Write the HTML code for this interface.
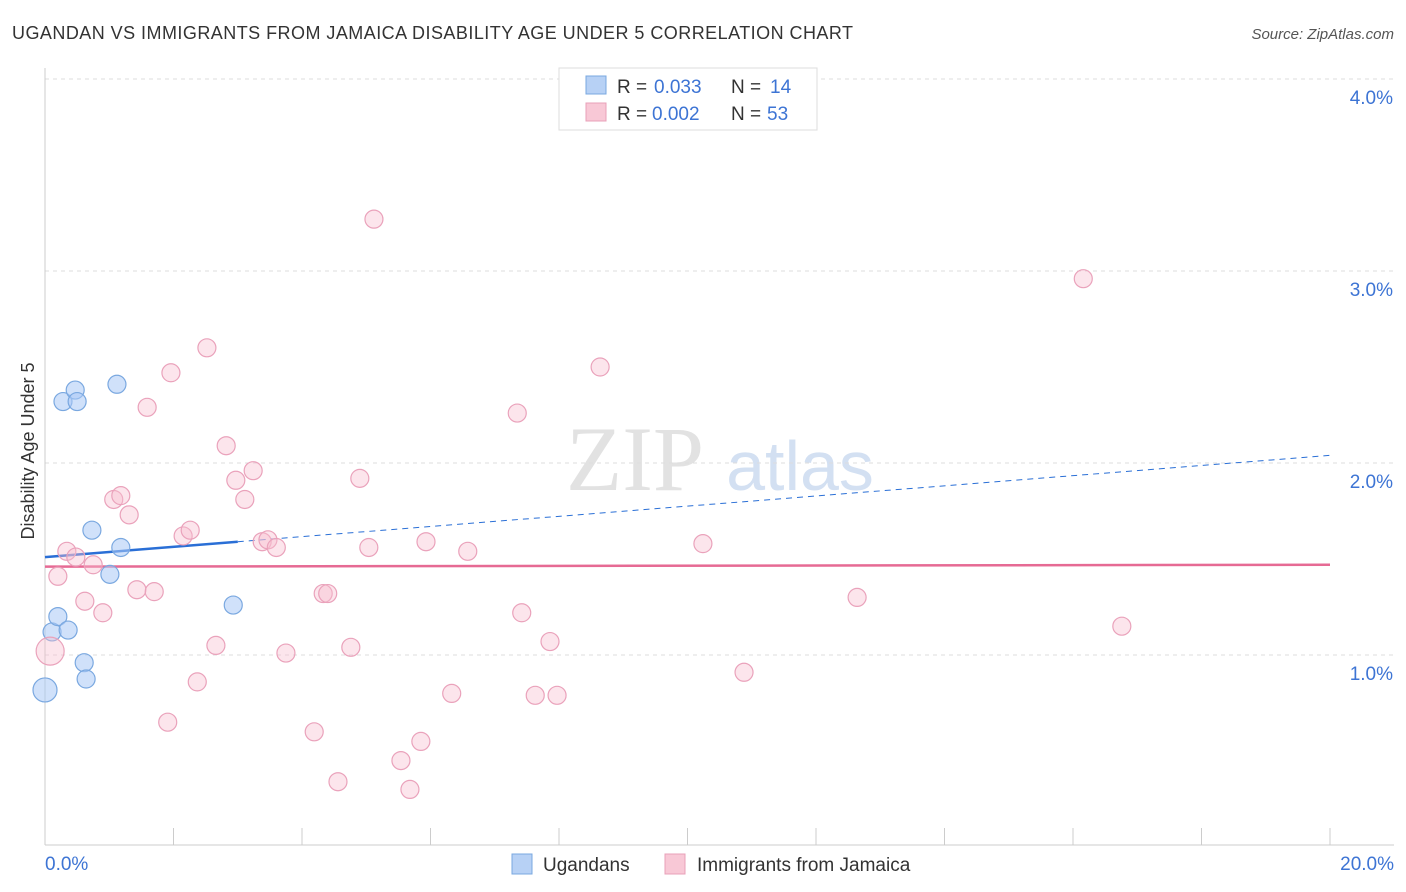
<!DOCTYPE html>
<html><head><meta charset="utf-8"><style>
body{margin:0;background:#fff;font-family:"Liberation Sans",sans-serif;}
svg{display:block}
</style></head><body>
<svg width="1406" height="892" xmlns="http://www.w3.org/2000/svg">
<text x="12" y="39" font-size="18" fill="#333" textLength="841" lengthAdjust="spacing">UGANDAN VS IMMIGRANTS FROM JAMAICA DISABILITY AGE UNDER 5 CORRELATION CHART</text>
<text x="1394" y="39" font-size="15" fill="#555" font-style="italic" text-anchor="end">Source: ZipAtlas.com</text>
<g>
<text x="635" y="490" font-size="92" fill="#e2e2e2" font-family="Liberation Serif,serif" text-anchor="middle">ZIP</text>
<text x="800" y="490" font-size="70" fill="#d3e0f2" text-anchor="middle">atlas</text>
</g>
<g id="grid"></g>
<g id="axes"></g>
<g id="lines"></g>
<g id="pts"></g>
<text x="38" y="455" font-size="18" fill="#333" text-anchor="middle" transform="rotate(-90 34 455)">Disability Age Under 5</text>
<g>
<rect x="559" y="68" width="258" height="62" fill="#fff" stroke="#ddd"/>
<rect x="586" y="76" width="20" height="18" fill="#b7d1f5" stroke="#7aa8e0"/>
<text x="617" y="93" font-size="19" fill="#333">R =</text>
<text x="654" y="93" font-size="19" fill="#3d74d4">0.033</text>
<text x="731" y="93" font-size="19" fill="#333">N =</text>
<text x="770" y="93" font-size="19" fill="#3d74d4">14</text>
<rect x="586" y="103" width="20" height="18" fill="#f8c8d6" stroke="#e8a0b8"/>
<text x="617" y="120" font-size="19" fill="#333">R =</text>
<text x="652" y="120" font-size="19" fill="#3d74d4">0.002</text>
<text x="731" y="120" font-size="19" fill="#333">N =</text>
<text x="767" y="120" font-size="19" fill="#3d74d4">53</text>
</g>
<g>
<rect x="512" y="854" width="20" height="20" fill="#b7d1f5" stroke="#7aa8e0"/>
<text x="543" y="871" font-size="19" fill="#333">Ugandans</text>
<rect x="665" y="854" width="20" height="20" fill="#f8c8d6" stroke="#e8a0b8"/>
<text x="697" y="871" font-size="19" fill="#333">Immigrants from Jamaica</text>
</g>
</svg>
<script>
const yTicks=[1,2,3,4];
const yTickLabels=["1.0%","2.0%","3.0%","4.0%"];
const xTickLabels=["0.0%","20.0%"];
const blueX=[0,0.11,0.20,0.36,0.28,0.47,0.50,1.12,0.73,1.18,1.01,0.61,0.64,2.93];
const blueY=[0.818,1.12,1.20,1.13,2.32,2.38,2.32,2.41,1.65,1.56,1.42,0.96,0.875,1.26];
const pinkX=[0.08,0.20,0.34,0.48,0.75,0.62,0.90,1.07,1.18,1.31,1.43,1.70,1.59,1.96,2.52,1.91,2.37,2.15,2.26,2.66,2.82,2.97,3.11,3.24,3.38,3.47,3.60,3.75,4.19,4.33,4.40,4.56,4.76,4.90,5.04,5.12,5.54,5.68,5.85,5.93,6.33,6.58,7.35,7.42,7.63,7.86,7.97,8.64,10.24,10.88,12.64,16.16,16.76];
const pinkY=[1.02,1.41,1.54,1.51,1.47,1.28,1.22,1.81,1.83,1.73,1.34,1.33,2.29,2.47,2.60,0.65,0.86,1.62,1.65,1.05,2.09,1.91,1.81,1.96,1.59,1.60,1.56,1.01,0.60,1.32,1.32,0.34,1.04,1.92,1.56,3.27,0.45,0.30,0.55,1.59,0.80,1.54,2.26,1.22,0.79,1.07,0.79,2.50,1.58,0.91,1.30,2.96,1.15];
const blueTrend=[1.51,1.59,2.04];
const pinkTrend=[1.46,1.47];
const NS="http://www.w3.org/2000/svg";
const X=v=>45+v*64.25, Y=v=>847-v*192;
function mk(p,t,a){const e=document.createElementNS(NS,t);for(const k in a)e.setAttribute(k,a[k]);document.getElementById(p).appendChild(e);return e;}
yTicks.forEach((t,i)=>{
 const l=mk('grid','line',{x1:45,x2:1394,y1:Y(t),y2:Y(t),stroke:'#ddd','stroke-dasharray':'4,4'});
 
 
 const tx=mk('grid','text',{x:1393,y:Y(t)+25,'font-size':19,fill:'#3d74d4','text-anchor':'end'});
 tx.textContent=yTickLabels[i];
 
 
});
let ax=mk('axes','line',{x1:45,x2:1394,y1:845,y2:845,stroke:'#ccc'});


ax=mk('axes','line',{x1:45,x2:45,y1:68,y2:845,stroke:'#ccc'});


for(let v=0;v<=20;v+=2){
 const t=mk('axes','line',{x1:X(v),x2:X(v),y1:828,y2:845,stroke:'#ccc'});
 
 
}
[[0,xTickLabels[0],'start',45],[20,xTickLabels[1],'end',1394]].forEach(d=>{
 const t=mk('axes','text',{x:d[3],y:870,'font-size':19,fill:'#3d74d4','text-anchor':d[2]});
 t.textContent=d[1];
 
 
});
blueX.forEach((x,i)=>{
 const c=mk('pts','circle',{cx:X(x),cy:Y(blueY[i]),r:i==0?12:9,fill:'rgba(170,200,245,0.55)',stroke:'#7aa8e0','stroke-width':1.2});
 
 
});
pinkX.forEach((x,i)=>{
 const c=mk('pts','circle',{cx:X(x),cy:Y(pinkY[i]),r:i==0?14:9,fill:'rgba(248,190,208,0.4)',stroke:'#eaa2bb','stroke-width':1.2});
 
 
});
let l=mk('lines','line',{x1:X(0),x2:X(3),y1:Y(blueTrend[0]),y2:Y(blueTrend[1]),stroke:'#2a6fd6','stroke-width':2.5});


l=mk('lines','line',{x1:X(3),x2:X(20),y1:Y(blueTrend[1]),y2:Y(blueTrend[2]),stroke:'#2a6fd6','stroke-width':1,'stroke-dasharray':'6,5'});


l=mk('lines','line',{x1:X(0),x2:X(20),y1:Y(pinkTrend[0]),y2:Y(pinkTrend[1]),stroke:'#e66a94','stroke-width':2.5});


</script>
</body></html>
